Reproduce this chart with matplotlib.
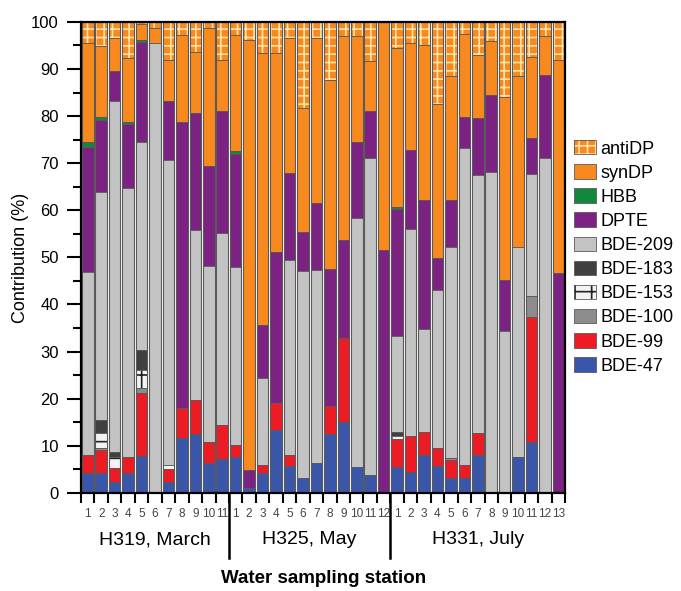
import numpy as np
import matplotlib
matplotlib.use('Agg')
import matplotlib.pyplot as plt
from matplotlib.patches import Patch
from matplotlib.ticker import MultipleLocator, FixedLocator, NullFormatter
import matplotlib.transforms as mtransforms

plt.rcParams['font.family'] = ['Liberation Sans', 'DejaVu Sans']
plt.rcParams['hatch.linewidth'] = 1.2

# stations per campaign
groups = ['H319, March', 'H325, May', 'H331, July']
n_bars = [11, 12, 13]
tick_labels = [str(i + 1) for n in n_bars for i in range(n)]

# contributions (%), one value per station
bde47 = [4.2, 4.3, 2.4, 4.3, 7.9, 0, 2.3, 11.6, 12.5, 6.4, 7.1,
         7.6, 1.0, 4.3, 13.4, 5.7, 3.1, 6.3, 12.5, 15.1, 5.6, 3.8, 0,
         5.4, 4.5, 8.1, 5.7, 3.1, 3.1, 8.1, 0, 0, 7.7, 10.9, 0, 0]
bde99 = [3.9, 4.8, 2.8, 3.4, 13.3, 0, 2.7, 6.4, 7.2, 4.3, 7.3,
         2.6, 0, 1.6, 5.6, 2.4, 0, 0, 6.0, 17.7, 0, 0, 0,
         6.0, 7.5, 4.9, 3.8, 3.9, 2.8, 4.7, 0, 0, 0, 26.5, 0, 0]
bde100 = [0, 0.4, 0, 0, 1.0, 0, 0, 0, 0, 0, 0,
          0, 0, 0, 0, 0, 0, 0, 0, 0, 0, 0, 0,
          0, 0, 0, 0, 0.4, 0, 0, 0, 0, 0, 4.3, 0, 0]
bde153 = [0, 3.2, 2.5, 0, 3.9, 0, 1.0, 0, 0, 0, 0,
          0, 0, 0, 0, 0, 0, 0, 0, 0, 0, 0, 0,
          0.6, 0, 0, 0, 0, 0, 0, 0, 0, 0, 0, 0, 0]
bde183 = [0, 2.8, 0.9, 0, 4.3, 0, 0, 0, 0, 0, 0,
          0, 0, 0, 0, 0, 0, 0, 0, 0, 0, 0, 0,
          1.0, 0, 0, 0, 0, 0, 0, 0, 0, 0, 0, 0, 0]
bde209 = [38.9, 48.3, 74.5, 57.0, 44.2, 95.5, 64.7, 0, 36.1, 37.5, 40.7,
          37.8, 0, 18.4, 0, 41.4, 44.1, 41.1, 0, 0, 52.7, 67.3, 0,
          20.3, 44.0, 21.7, 33.5, 44.8, 67.3, 54.7, 68.2, 34.3, 44.6, 26.0, 71.1, 0]
dpte = [26.5, 15.4, 6.5, 13.6, 21.1, 0, 12.4, 60.8, 24.8, 21.1, 25.9,
        24.0, 3.9, 11.4, 32.2, 18.4, 8.1, 14.2, 29.0, 20.9, 16.1, 9.9, 51.6,
        27.0, 16.8, 27.5, 6.8, 10.0, 6.7, 12.0, 16.3, 10.9, 0, 7.6, 17.6, 46.6]
hbb = [0.9, 0.6, 0, 0.5, 0.5, 0, 0, 0, 0, 0, 0,
       0.5, 0, 0, 0, 0, 0, 0, 0, 0, 0, 0, 0,
       0.5, 0, 0, 0, 0, 0, 0, 0, 0, 0, 0, 0, 0]
syndp = [21.1, 15.1, 6.9, 13.5, 3.3, 3.2, 8.8, 18.4, 13.1, 29.4, 10.9,
         24.8, 91.3, 57.6, 42.1, 28.6, 26.4, 34.9, 40.1, 43.2, 22.5, 10.6, 48.4,
         33.6, 22.7, 32.9, 32.7, 26.3, 17.6, 13.5, 11.5, 38.8, 36.2, 17.3, 8.3, 45.3]
antidp = [4.5, 5.1, 3.5, 7.7, 0.5, 1.3, 8.1, 2.8, 6.3, 1.3, 8.1,
          2.7, 3.8, 6.7, 6.7, 3.5, 18.3, 3.5, 12.4, 3.1, 3.1, 8.4, 0,
          5.6, 4.5, 4.9, 17.5, 11.5, 2.5, 7.0, 4.0, 16.0, 11.5, 7.4, 3.0, 8.1]

# name, values, face colour, hatch, hatch colour
layers = [
    ('BDE-47', bde47, '#3a56a8', None, None),
    ('BDE-99', bde99, '#ed1c24', None, None),
    ('BDE-100', bde100, '#8c8c8c', None, None),
    ('BDE-153', bde153, '#f2f2f2', '+', '#222222'),
    ('BDE-183', bde183, '#404040', None, None),
    ('BDE-209', bde209, '#c3c3c3', None, None),
    ('DPTE', dpte, '#7b2283', None, None),
    ('HBB', hbb, '#13873c', None, None),
    ('synDP', syndp, '#f7891f', None, None),
    ('antiDP', antidp, '#f7891f', '++', '#fde3a6'),
]

edge = '#5a5a5a'
w = 0.86
x = np.arange(len(tick_labels))

fig, ax = plt.subplots(figsize=(6.81, 5.91), dpi=100)
fig.subplots_adjust(left=0.119, right=0.830, top=0.963, bottom=0.166)

bottom = np.zeros(len(x))
handles = []
for name, vals, col, hatch, hcol in layers:
    vals = np.array(vals, dtype=float)
    m = vals > 0
    if hatch:
        ax.bar(x[m], vals[m], bottom=bottom[m], width=w, color=col,
               hatch=hatch, edgecolor=hcol, linewidth=0, zorder=2)
        h = (Patch(facecolor=col, hatch=hatch, edgecolor=hcol, linewidth=0),
             Patch(fill=False, edgecolor=edge, linewidth=0.6))
    else:
        ax.bar(x[m], vals[m], bottom=bottom[m], width=w, color=col,
               linewidth=0, zorder=2)
        h = Patch(facecolor=col, edgecolor=edge, linewidth=0.6)
    ax.bar(x[m], vals[m], bottom=bottom[m], width=w, fill=False,
           edgecolor=edge, linewidth=0.5, zorder=3)
    handles.append((h, name))
    bottom += vals

# outline of each full bar
ax.bar(x, bottom, width=w, fill=False, edgecolor=edge, linewidth=0.8, zorder=4)

ax.set_xlim(-0.5, len(x) - 0.5)
ax.set_ylim(0, 100)

for s in ax.spines.values():
    s.set_linewidth(1.6)
    s.set_zorder(5)

ax.yaxis.set_major_locator(MultipleLocator(10))
ax.yaxis.set_minor_locator(MultipleLocator(5))
ax.tick_params(axis='y', which='major', length=10, width=1.5, labelsize=12,
               pad=6)
ax.tick_params(axis='y', which='minor', length=6, width=1.5)

ax.xaxis.set_major_locator(FixedLocator(np.arange(-0.5, len(x), 1)))
ax.xaxis.set_major_formatter(NullFormatter())
ax.xaxis.set_minor_locator(FixedLocator(x))
ax.set_xticks(x, tick_labels, minor=True)
ax.tick_params(axis='x', which='major', length=7, width=1.5)
ax.tick_params(axis='x', which='minor', length=0, labelsize=8.5, pad=11,
               labelcolor='#444444')

ax.set_ylabel('Contribution (%)', fontsize=13)
ax.yaxis.set_label_coords(-0.108, 0.5)

# campaign separators and labels
trans = mtransforms.blended_transform_factory(ax.transData, ax.transAxes)
edges = np.cumsum(n_bars)[:-1] - 0.5
for xe in edges:
    ax.plot([xe, xe], [0.0, -0.138], transform=trans, color='black',
            lw=1.8, clip_on=False, zorder=6)
starts = np.concatenate([[0], np.cumsum(n_bars)[:-1]])
for g, s0, n in zip(groups, starts, n_bars):
    ax.text(s0 + (n - 1) / 2, -0.10, g, transform=trans, ha='center',
            va='center', fontsize=14)

ax.text(0.5, -0.182, 'Water sampling station', transform=ax.transAxes,
        ha='center', va='center', fontsize=13.5, fontweight='bold')

handles = handles[::-1]
ax.legend([h for h, _ in handles], [n for _, n in handles],
          loc='center left', bbox_to_anchor=(1.0, 0.5), frameon=False,
          fontsize=13, labelspacing=0.37, handlelength=1.2,
          handleheight=0.85, handletextpad=0.25, borderaxespad=0.1)

fig.savefig('out.png', dpi=100)
